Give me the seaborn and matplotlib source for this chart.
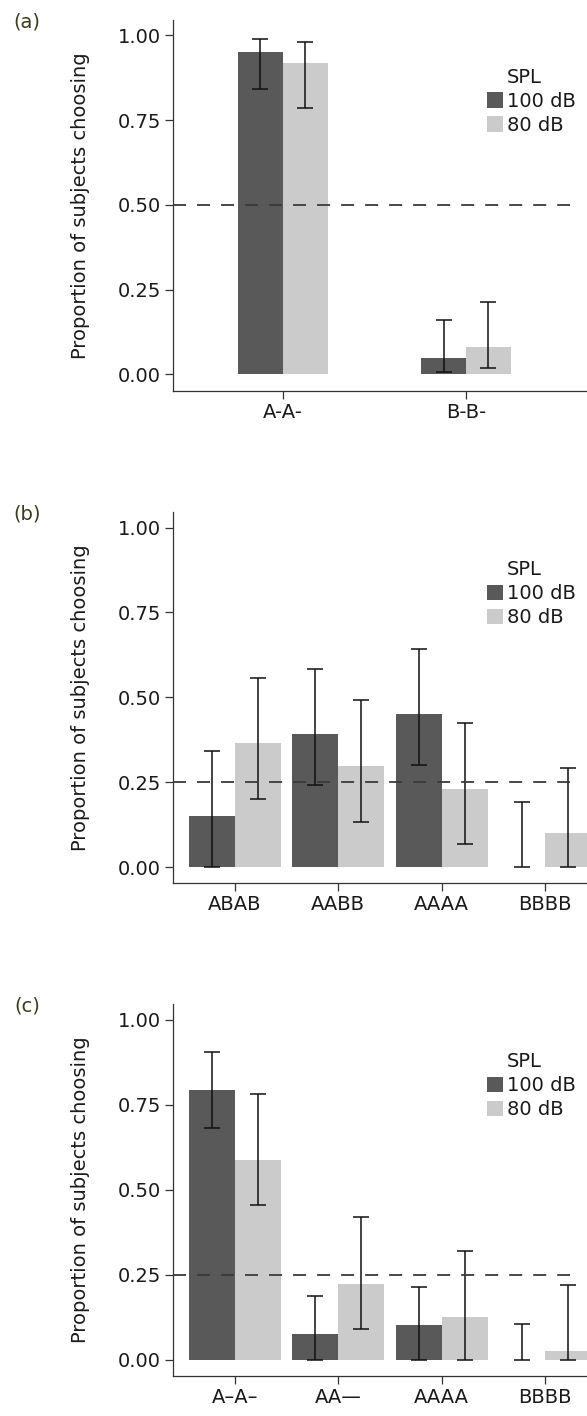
import numpy as np
import pandas as pd
import matplotlib
matplotlib.use("Agg")
import matplotlib.pyplot as plt
from matplotlib.patches import Patch
import seaborn as sns

# SPL levels shared by all three panels
spl_levels = ['100 dB', '80 dB']
spl_colors = ['#595959', '#cbcbcb']

# (a) two-choice test
a_patterns = ['A-A-', 'B-B-']
a_100 = [0.951, 0.047]
a_100_lo = [0.841, 0.008]
a_100_hi = [0.990, 0.159]
a_80 = [0.919, 0.080]
a_80_lo = [0.786, 0.018]
a_80_hi = [0.981, 0.215]
a_chance = 0.50

# (b) four-choice test
b_patterns = ['ABAB', 'AABB', 'AAAA', 'BBBB']
b_100 = [0.151, 0.391, 0.452, 0.0]
b_100_lo = [0.0, 0.242, 0.301, 0.0]
b_100_hi = [0.343, 0.583, 0.643, 0.192]
b_80 = [0.365, 0.299, 0.231, 0.100]
b_80_lo = [0.200, 0.133, 0.068, 0.0]
b_80_hi = [0.558, 0.492, 0.425, 0.293]
b_chance = 0.25

# (c) four-choice test with gaps
c_patterns = ['A\u2013A\u2013', 'AA\u2014', 'AAAA', 'BBBB']
c_100 = [0.792, 0.075, 0.102, 0.0]
c_100_lo = [0.682, 0.0, 0.0, 0.0]
c_100_hi = [0.905, 0.187, 0.215, 0.105]
c_80 = [0.588, 0.224, 0.125, 0.026]
c_80_lo = [0.456, 0.091, 0.0, 0.0]
c_80_hi = [0.782, 0.419, 0.319, 0.220]
c_chance = 0.25


def make_df(patterns, v100, lo100, hi100, v80, lo80, hi80):
    rows = []
    for spl, vals, lo, hi in [('100 dB', v100, lo100, hi100), ('80 dB', v80, lo80, hi80)]:
        for p, v, l, h in zip(patterns, vals, lo, hi):
            rows.append({'pattern': p, 'SPL': spl, 'prop': v, 'lo': l, 'hi': h})
    return pd.DataFrame(rows)


panels = [
    ('(a)', make_df(a_patterns, a_100, a_100_lo, a_100_hi, a_80, a_80_lo, a_80_hi), a_patterns, a_chance, 0.49),
    ('(b)', make_df(b_patterns, b_100, b_100_lo, b_100_hi, b_80, b_80_lo, b_80_hi), b_patterns, b_chance, 0.89),
    ('(c)', make_df(c_patterns, c_100, c_100_lo, c_100_hi, c_80, c_80_lo, c_80_hi), c_patterns, c_chance, 0.89),
]

sns.set_style('ticks')
plt.rcParams['font.family'] = ['DejaVu Sans']
plt.rcParams['font.size'] = 14
text_col = '#1a1a1a'

W, H = 587, 1416
fig = plt.figure(figsize=(W / 100, H / 100), dpi=100)

# pixel boxes (top, bottom) of each panel, the right edge runs past the figure
boxes = [(20, 390.7), (512.3, 883.3), (1004.3, 1376)]
left_px, right_px = 172.7, 607

for (tag, df, patterns, chance, width), (top, bot) in zip(panels, boxes):
    ax = fig.add_axes([left_px / W, 1 - bot / H, (right_px - left_px) / W, (bot - top) / H])
    sns.barplot(data=df, x='pattern', y='prop', hue='SPL', order=patterns,
                hue_order=spl_levels, palette=spl_colors, width=width,
                saturation=1, errorbar=None, legend=False, linewidth=0,
                edgecolor='none', ax=ax)

    # confidence intervals
    for container, level in zip(ax.containers, spl_levels):
        sub = df[df['SPL'] == level].set_index('pattern').loc[patterns]
        xs = [b.get_x() + b.get_width() / 2 for b in container]
        ax.errorbar(xs, sub['prop'], yerr=[sub['prop'] - sub['lo'], sub['hi'] - sub['prop']],
                    fmt='none', ecolor='#111111', elinewidth=1.1, capsize=5.8, capthick=1.1, zorder=3)

    # chance level
    ax.axhline(chance, xmin=0, xmax=(570 - left_px) / (right_px - left_px), color='#3a3a3a',
               lw=1.3, linestyle=(0, (7.2, 6.1)), zorder=4)

    # category spacing in pixels: 2 groups vs 4 groups
    step = 183.3 if len(patterns) == 2 else 103.4
    ax.set_xlim(-0.6, -0.6 + (right_px - left_px) / step)
    ax.set_ylim(-0.048, 1.045)
    ax.set_yticks([0, 0.25, 0.5, 0.75, 1.0])
    ax.yaxis.set_major_formatter('{x:.2f}')
    ax.set_xlabel('')
    ax.set_ylabel('Proportion of subjects choosing', fontsize=14, color=text_col)
    ax.yaxis.set_label_coords((90 - left_px) / (right_px - left_px), 0.5)
    ax.tick_params(length=5.8, width=0.9, color='#333333', labelsize=14,
                   labelcolor=text_col, pad=2.8)
    sns.despine(ax=ax)
    for s in ['left', 'bottom']:
        ax.spines[s].set_linewidth(0.9)
        ax.spines[s].set_color('#333333')

    # legend
    handles = [Patch(facecolor=c, edgecolor='none') for c in spl_colors]
    ax.legend(handles, spl_levels, loc='upper left',
              bbox_to_anchor=(486.7 / W, 1 - (top + 72) / H), bbox_transform=fig.transFigure,
              frameon=False, borderpad=0, borderaxespad=0, handlelength=0.855,
              handleheight=0.855, handletextpad=0.19, labelspacing=0.25,
              fontsize=14, labelcolor=text_col)
    fig.text(507 / W, 1 - (top + 63) / H, 'SPL', ha='left', va='baseline',
             fontsize=14, color=text_col)

    fig.text(27 / W, 1 - (top + 2) / H, tag, ha='center', va='center',
             fontsize=14, color='#3b3b1e')

fig.savefig('out.png', dpi=100)
